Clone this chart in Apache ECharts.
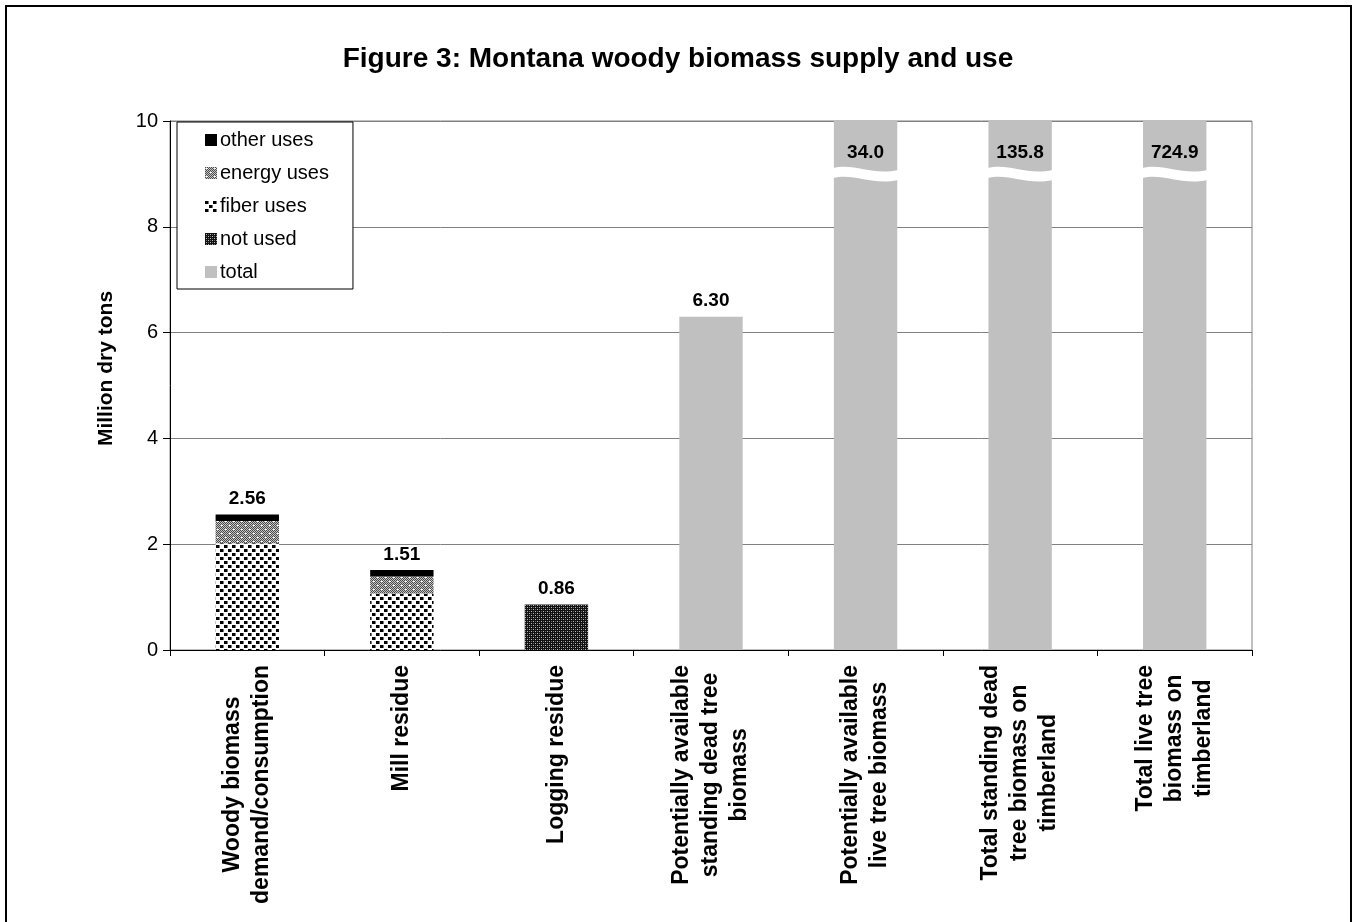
<!DOCTYPE html>
<html>
<head>
<meta charset="utf-8">
<title>Figure 3: Montana woody biomass supply and use</title>
<script src="https://cdn.jsdelivr.net/npm/echarts@6/dist/echarts.min.js"></script>
<style>
  html, body { margin: 0; padding: 0; background: #fff; }
  #chart { width: 1356px; height: 922px; }
</style>
</head>
<body>
<div id="chart"></div>
<script>
// ─── data (million dry tons) ─────────────────────────────────
const categories = [
  'Woody biomass\ndemand/consumption',
  'Mill residue',
  'Logging residue',
  'Potentially available\nstanding dead tree\nbiomass',
  'Potentially available\nlive tree biomass',
  'Total standing dead\ntree biomass on\ntimberland',
  'Total live tree\nbiomass on\ntimberland'
];
const notUsed    = [null, null, 0.86, null, null, null, null];
const fiberUses  = [2.02, 1.07, null, null, null, null, null];
const energyUses = [0.42, 0.32, null, null, null, null, null];
const otherUses  = [0.12, 0.12, null, null, null, null, null];
const total      = [null, null, null, 6.30, 34.0, 135.8, 724.9];
const totals     = [2.56, 1.51, 0.86, 6.30, 34.0, 135.8, 724.9];
const yTicks     = [0, 2, 4, 6, 8, 10];

const Y_MAX = 10;
const BREAK_AT = 9.0;   // where the off-scale bars get their wavy cut
const FONT = '"Liberation Sans", Arial, sans-serif';

// ─── fill patterns (Excel-style hatch) ───────────────────────
function makeTile(size, draw) {
  const c = document.createElement('canvas');
  c.width = size; c.height = size;
  const ctx = c.getContext('2d');
  draw(ctx, size);
  return { image: c, repeat: 'repeat' };
}
const fiberPattern = makeTile(8, (ctx) => {
  ctx.fillStyle = '#fff'; ctx.fillRect(0, 0, 8, 8);
  ctx.fillStyle = '#000';
  ctx.fillRect(0, 1, 3, 3);
  ctx.fillRect(4, 5, 3, 3);
  ctx.fillStyle = '#777';
  ctx.fillRect(3, 1, 1, 3);
  ctx.fillRect(7, 5, 1, 3);
});
const energyPattern = makeTile(8, (ctx) => {
  for (let y = 0; y < 8; y++) {
    for (let x = 0; x < 8; x++) {
      ctx.fillStyle = (x + y) % 2 === 0 ? '#4a4a4a' : '#c4c4c4';
      ctx.fillRect(x, y, 1, 1);
    }
  }
  ctx.fillStyle = '#fff';
  ctx.fillRect(1, 1, 2, 1);
  ctx.fillRect(5, 5, 2, 1);
});
const notUsedPattern = makeTile(4, (ctx) => {
  ctx.fillStyle = '#111'; ctx.fillRect(0, 0, 4, 4);
  ctx.fillStyle = '#bbb';
  ctx.fillRect(1, 1, 1, 1);
  ctx.fillRect(3, 3, 1, 1);
  ctx.fillStyle = '#666';
  ctx.fillRect(1, 3, 1, 1);
  ctx.fillRect(3, 1, 1, 1);
});

const seriesDefs = [
  { name: 'not used', data: notUsed, color: notUsedPattern },
  { name: 'fiber uses', data: fiberUses, color: fiberPattern },
  { name: 'energy uses', data: energyUses, color: energyPattern },
  { name: 'other uses', data: otherUses, color: '#000' },
  { name: 'total', data: total, color: '#c0c0c0' }
];

function topSeries(i) {
  let t = -1;
  seriesDefs.forEach((s, k) => { if (s.data[i] != null) t = k; });
  return t;
}
function totalText(v) {
  return v < Y_MAX ? v.toFixed(2) : v.toFixed(1);
}

const barSeries = seriesDefs.map((s, k) => ({
  name: s.name,
  type: 'bar',
  stack: 'all',
  barWidth: '41%',
  itemStyle: { color: s.color },
  emphasis: { disabled: true },
  data: s.data.map((v, i) => {
    if (v == null) return '-';
    const item = { value: Math.min(v, Y_MAX) };
    if (topSeries(i) === k) {
      const over = totals[i] > Y_MAX;
      item.label = {
        show: true,
        position: over ? 'insideTop' : 'top',
        distance: over ? 22 : 6,
        formatter: totalText(totals[i]),
        color: '#000',
        fontFamily: FONT,
        fontWeight: 'bold',
        fontSize: 19
      };
    }
    return item;
  })
}));

// wavy white cut across bars that run off the axis
const breakData = totals
  .map((v, i) => (v > Y_MAX ? [i, BREAK_AT] : null))
  .filter(d => d);

const breakSeries = {
  type: 'custom',
  name: 'break',
  z: 5,
  silent: true,
  data: breakData,
  renderItem(params, api) {
    const p = api.coord([api.value(0), api.value(1)]);
    const bw = api.size([1, 0])[0] * 0.41;
    const x0 = p[0] - bw / 2 - 1;
    const x1 = p[0] + bw / 2 + 1;
    const w = x1 - x0;
    const yt = p[1] - 6;
    const h = 10;
    const path =
      `M${x0} ${yt} ` +
      `C${x0 + w * 0.35} ${yt - 5} ${x0 + w * 0.6} ${yt + 8} ${x1} ${yt + 2} ` +
      `L${x1} ${yt + 2 + h} ` +
      `C${x0 + w * 0.6} ${yt + 8 + h} ${x0 + w * 0.35} ${yt - 5 + h} ${x0} ${yt + h} Z`;
    return {
      type: 'path',
      shape: { pathData: path },
      style: { fill: '#fff', stroke: null }
    };
  }
};

const chart = echarts.init(document.getElementById('chart'), null, { renderer: 'canvas' });

chart.setOption({
  animation: false,
  backgroundColor: '#fff',
  textStyle: { fontFamily: FONT },
  graphic: [{
    type: 'rect',
    shape: { x: 6, y: 6, width: 1345, height: 1000 },
    style: { fill: null, stroke: '#000', lineWidth: 2 },
    z: 100, silent: true
  }],
  title: {
    text: 'Figure 3: Montana woody biomass supply and use',
    left: 'center',
    top: 40,
    textStyle: { fontFamily: FONT, fontWeight: 'bold', fontSize: 28, color: '#000' }
  },
  legend: {
    orient: 'vertical',
    left: 177,
    top: 122,
    data: ['other uses', 'energy uses', 'fiber uses', 'not used', 'total'],
    icon: 'rect',
    itemWidth: 12,
    itemHeight: 12,
    itemGap: 13,
    padding: [8, 24, 7, 28],
    backgroundColor: '#fff',
    borderColor: '#000',
    borderWidth: 1,
    borderRadius: 0,
    textStyle: { fontFamily: FONT, fontSize: 20, color: '#000', padding: [0, 0, 0, -2] },
    z: 10
  },
  grid: {
    left: 170, right: 104, top: 121, bottom: 272,
    show: true, borderColor: '#808080', borderWidth: 1,
    containLabel: false
  },
  xAxis: {
    type: 'category',
    data: categories,
    axisLine: { lineStyle: { color: '#000', width: 1 } },
    axisTick: { show: true, length: 6, lineStyle: { color: '#000' } },
    axisLabel: {
      interval: 0,
      rotate: 90,
      margin: 15,
      color: '#000',
      formatter: v => v.split('\n').map(s => '{c|' + s + '}').join('\n'),
      rich: {
        c: { align: 'center', fontFamily: FONT, fontWeight: 'bold', fontSize: 23, lineHeight: 29, color: '#000' }
      }
    }
  },
  yAxis: {
    type: 'value',
    min: yTicks[0],
    max: yTicks[yTicks.length - 1],
    interval: yTicks[1] - yTicks[0],
    name: 'Million dry tons',
    nameLocation: 'middle',
    nameGap: 53,
    nameTextStyle: {
      fontFamily: FONT, fontWeight: 'bold', fontSize: 21, color: '#000',
      padding: [0, 0, 0, 34]
    },
    axisLine: { show: true, lineStyle: { color: '#000', width: 1 } },
    axisTick: { show: true, length: 7, lineStyle: { color: '#000' } },
    axisLabel: { margin: 12, fontFamily: FONT, fontSize: 20, color: '#000' },
    splitLine: { show: true, lineStyle: { color: '#808080', width: 1 } }
  },
  series: [...barSeries, breakSeries]
});
</script>
</body>
</html>
